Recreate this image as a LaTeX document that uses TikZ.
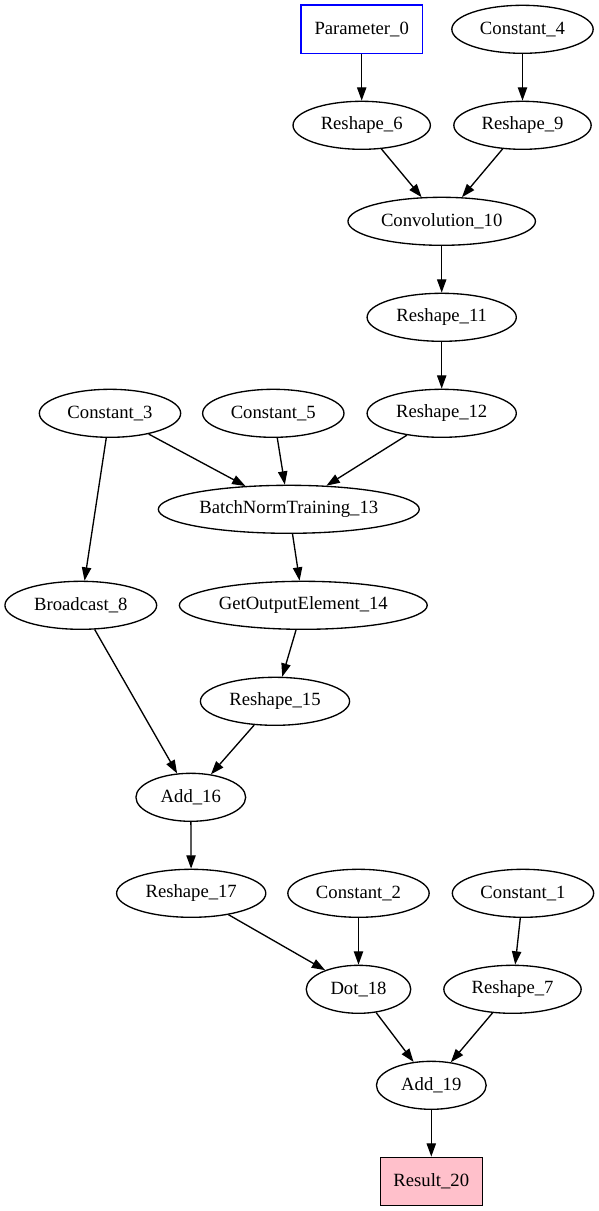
\documentclass[tikz,border=0pt]{standalone}
\usepackage{fontspec}
\setmainfont{Liberation Serif}
\usetikzlibrary{shapes.geometric,arrows.meta}
\definecolor{ParamBlue}{HTML}{0000FF}
\definecolor{ResultPink}{HTML}{FFC0CB}

\begin{document}
\begin{tikzpicture}[x=0.75pt,y=-0.75pt,
    every node/.style={font=\fontsize{14pt}{16.8pt}\selectfont},
    opnode/.style={ellipse,draw,line width=1pt,inner sep=0pt,minimum height=36pt},
    boxnode/.style={rectangle,draw,line width=1pt,inner sep=0pt,minimum height=36pt},
    parambox/.style={rectangle,inner sep=0pt,minimum height=36pt},
    arr/.style={line width=1pt,-{Triangle[length=10pt,width=7pt]}}]
    \useasboundingbox (0,0) rectangle (599,1211);

    \node[parambox,minimum width=90.5pt] (param0) at (361.7,29.3) {Parameter\_0};
    \draw[ParamBlue,line width=1pt] (param0.north west) rectangle (param0.south east);
    \node[opnode,minimum width=106pt] (const4) at (522.5,29.3) {Constant\_4};
    \node[opnode,minimum width=103pt] (reshape6) at (361.7,125.3) {Reshape\_6};
    \node[opnode,minimum width=103pt] (reshape9) at (522.5,125.3) {Reshape\_9};
    \node[opnode,minimum width=140.6pt] (conv10) at (441.7,221.3) {Convolution\_10};
    \node[opnode,minimum width=111.9pt] (reshape11) at (441.7,317.3) {Reshape\_11};
    \node[opnode,minimum width=106pt] (const3) at (110,413.3) {Constant\_3};
    \node[opnode,minimum width=106pt] (const5) at (273.3,413.3) {Constant\_5};
    \node[opnode,minimum width=111.9pt] (reshape12) at (441.7,413.3) {Reshape\_12};
    \node[opnode,minimum width=195.7pt] (bnorm13) at (288.8,509.3) {BatchNormTraining\_13};
    \node[opnode,minimum width=113.8pt] (bcast8) at (80.8,605.3) {Broadcast\_8};
    \node[opnode,minimum width=185.9pt] (getout14) at (303.3,605.3) {GetOutputElement\_14};
    \node[opnode,minimum width=111.9pt] (reshape15) at (275,701.3) {Reshape\_15};
    \node[opnode,minimum width=82.3pt] (add16) at (190.8,797.3) {Add\_16};
    \node[opnode,minimum width=111.9pt] (reshape17) at (191.2,893.3) {Reshape\_17};
    \node[opnode,minimum width=106pt] (const2) at (358.5,893.3) {Constant\_2};
    \node[opnode,minimum width=106pt] (const1) at (523,893.3) {Constant\_1};
    \node[opnode,minimum width=78.4pt] (dot18) at (358.5,989.3) {Dot\_18};
    \node[opnode,minimum width=103pt] (reshape7) at (512.5,989.3) {Reshape\_7};
    \node[opnode,minimum width=82.3pt] (add19) at (431.3,1085.3) {Add\_19};
    \node[boxnode,fill=ResultPink,minimum width=76.5pt] (result20) at (431.3,1181.3) {Result\_20};

    \draw[arr] (param0) -- (reshape6);
    \draw[arr] (const4) -- (reshape9);
    \draw[arr] (reshape6) -- (conv10);
    \draw[arr] (reshape9) -- (conv10);
    \draw[arr] (conv10) -- (reshape11);
    \draw[arr] (reshape11) -- (reshape12);
    \draw[arr] (const3) -- (bnorm13);
    \draw[arr] (const5) -- (bnorm13);
    \draw[arr] (reshape12) -- (bnorm13);
    \draw[arr] (const3) -- (bcast8);
    \draw[arr] (bnorm13) -- (getout14);
    \draw[arr] (getout14) -- (reshape15);
    \draw[arr] (bcast8) -- (add16);
    \draw[arr] (reshape15) -- (add16);
    \draw[arr] (add16) -- (reshape17);
    \draw[arr] (reshape17) -- (dot18);
    \draw[arr] (const2) -- (dot18);
    \draw[arr] (const1) -- (reshape7);
    \draw[arr] (dot18) -- (add19);
    \draw[arr] (reshape7) -- (add19);
    \draw[arr] (add19) -- (result20);
\end{tikzpicture}
\end{document}
